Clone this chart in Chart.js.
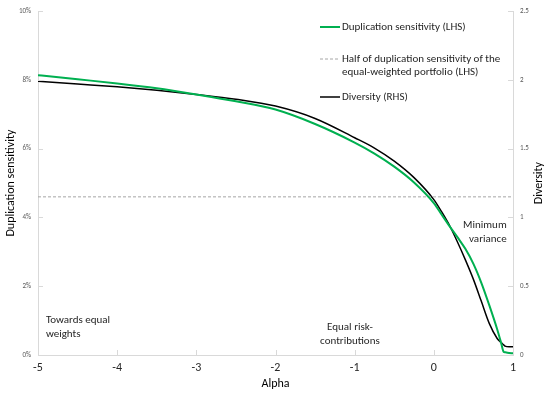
<!DOCTYPE html>
<html>
<head>
<meta charset="utf-8">
<script src="https://cdn.jsdelivr.net/npm/chart.js@4.4.1/dist/chart.umd.min.js"></script>
<style>
  html, body { margin: 0; padding: 0; background: #fff; }
  #wrap { width: 550px; height: 395px; }
</style>
</head>
<body>
<div id="wrap"><canvas id="chart"></canvas></div>
<script>
// --- data ---
const alpha = [-5, -4.5, -4, -3.5, -3, -2.5, -2, -1.5, -1, -0.75, -0.5, -0.25, 0, 0.1, 0.2, 0.3, 0.4, 0.5, 0.6, 0.7, 0.8, 0.85, 0.88, 0.9, 0.95, 1];
const dupSensitivity = [8.14, 8.02, 7.90, 7.76, 7.58, 7.38, 7.14, 6.72, 6.18, 5.86, 5.48, 5.02, 4.42, 4.08, 3.74, 3.42, 3.08, 2.65, 2.10, 1.45, 0.75, 0.35, 0.10, 0.08, 0.06, 0.05];
const diversity = [1.99, 1.97, 1.95, 1.925, 1.895, 1.86, 1.81, 1.72, 1.58, 1.505, 1.41, 1.29, 1.13, 1.04, 0.94, 0.82, 0.69, 0.55, 0.39, 0.23, 0.12, 0.09, 0.075, 0.065, 0.06, 0.06];
const halfEqualWeighted = 4.6;
const xTicks = [-5, -4, -3, -2, -1, 0, 1];
const leftTicks = [0, 2, 4, 6, 8, 10];
const rightTicks = [0, 0.5, 1, 1.5, 2, 2.5];

const legendItems = [
  { lines: ['Duplication sensitivity (LHS)'], color: '#00b050', width: 2, dash: [] },
  { lines: ['Half of duplication sensitivity of the', 'equal-weighted portfolio (LHS)'], color: '#a6a6a6', width: 1, dash: [3, 2] },
  { lines: ['Diversity (RHS)'], color: '#000000', width: 1.5, dash: [] }
];

const notes = [
  { x: -4.9, y: 1.0, align: 'left', lines: ['Towards equal', 'weights'] },
  { x: -1.06, y: 0.81, align: 'center', lines: ['Equal risk-', 'contributions'] },
  { x: 0.92, y: 3.77, align: 'right', lines: ['Minimum', 'variance'] }
];

const FONT = 'Carlito, Lato, sans-serif';
const axisColor = '#d9d9d9';

// inward tick marks, legend, notes and right axis title
const decorPlugin = {
  id: 'decor',
  afterDraw(chart) {
    const ctx = chart.ctx;
    const { x, y, y2 } = chart.scales;
    const area = chart.chartArea;
    ctx.save();
    ctx.strokeStyle = axisColor;
    ctx.lineWidth = 1;
    ctx.beginPath();
    xTicks.forEach(v => {
      const px = Math.round(x.getPixelForValue(v)) + 0.5;
      ctx.moveTo(px, area.bottom); ctx.lineTo(px, area.bottom - 5);
    });
    leftTicks.forEach(v => {
      const py = Math.round(y.getPixelForValue(v)) + 0.5;
      ctx.moveTo(area.left, py); ctx.lineTo(area.left + 5, py);
    });
    rightTicks.forEach(v => {
      const py = Math.round(y2.getPixelForValue(v)) + 0.5;
      ctx.moveTo(area.right, py); ctx.lineTo(area.right - 5, py);
    });
    ctx.stroke();

    // legend
    ctx.font = '11px ' + FONT;
    ctx.textBaseline = 'middle';
    ctx.textAlign = 'left';
    const legendTop = [27, 59, 97];
    legendItems.forEach((item, i) => {
      const ly = legendTop[i];
      ctx.beginPath();
      ctx.strokeStyle = item.color;
      ctx.lineWidth = item.width;
      ctx.setLineDash(item.dash);
      ctx.moveTo(320, ly); ctx.lineTo(340, ly);
      ctx.stroke();
      ctx.setLineDash([]);
      ctx.fillStyle = '#262626';
      item.lines.forEach((t, j) => ctx.fillText(t, 342, ly + j * 13));
    });

    // notes
    ctx.fillStyle = '#262626';
    notes.forEach(n => {
      ctx.textAlign = n.align;
      const px = x.getPixelForValue(n.x);
      const py = y.getPixelForValue(n.y);
      n.lines.forEach((t, j) => ctx.fillText(t, px, py + j * 14));
    });

    // right axis title, reading bottom to top
    ctx.translate(539, (area.top + area.bottom) / 2);
    ctx.rotate(-Math.PI / 2);
    ctx.textAlign = 'center';
    ctx.font = '12px ' + FONT;
    ctx.fillStyle = '#000';
    ctx.fillText('Diversity', 0, 0);
    ctx.restore();
  }
};

new Chart(document.getElementById('chart'), {
  type: 'line',
  data: {
    datasets: [
      {
        label: 'Duplication sensitivity (LHS)',
        data: alpha.map((a, i) => ({ x: a, y: dupSensitivity[i] })),
        borderColor: '#00b050', borderWidth: 2, pointRadius: 0,
        cubicInterpolationMode: 'monotone', yAxisID: 'y'
      },
      {
        label: 'Half of duplication sensitivity of the equal-weighted portfolio (LHS)',
        data: [{ x: alpha[0], y: halfEqualWeighted }, { x: alpha[alpha.length - 1], y: halfEqualWeighted }],
        borderColor: '#a6a6a6', borderWidth: 1, borderDash: [3, 2], pointRadius: 0, yAxisID: 'y'
      },
      {
        label: 'Diversity (RHS)',
        data: alpha.map((a, i) => ({ x: a, y: diversity[i] })),
        borderColor: '#000000', borderWidth: 1.5, pointRadius: 0,
        cubicInterpolationMode: 'monotone', yAxisID: 'y2'
      }
    ]
  },
  options: {
    responsive: true,
    maintainAspectRatio: false,
    animation: false,
    layout: { padding: { top: 10, left: 0, right: 0, bottom: 0 } },
    plugins: { legend: { display: false }, tooltip: { enabled: false } },
    scales: {
      x: {
        type: 'linear', min: -5, max: 1,
        afterBuildTicks: s => { s.ticks = xTicks.map(v => ({ value: v })); },
        afterFit: s => { s.height = 40; },
        grid: { display: false, drawTicks: false },
        border: { color: axisColor },
        ticks: { color: '#262626', font: { family: FONT, size: 12 }, padding: 6, maxRotation: 0 },
        title: { display: true, text: 'Alpha', color: '#000', font: { family: FONT, size: 12 }, padding: { top: 0 } }
      },
      y: {
        position: 'left', min: 0, max: 10,
        afterBuildTicks: s => { s.ticks = leftTicks.map(v => ({ value: v })); },
        afterFit: s => { s.width = 38; },
        grid: { display: false, drawTicks: false },
        border: { color: axisColor },
        ticks: { color: '#595959', font: { family: FONT, size: 7 }, padding: 7, callback: v => v + '%' },
        title: { display: true, text: 'Duplication sensitivity', color: '#000', font: { family: FONT, size: 12 }, padding: { top: 4, bottom: 0 } }
      },
      y2: {
        position: 'right', min: 0, max: 2.5,
        afterBuildTicks: s => { s.ticks = rightTicks.map(v => ({ value: v })); },
        afterFit: s => { s.width = 37; },
        grid: { display: false, drawTicks: false },
        border: { color: axisColor },
        ticks: { color: '#595959', font: { family: FONT, size: 7 }, padding: 7, callback: v => String(v) }
      }
    }
  },
  plugins: [decorPlugin]
});
</script>
</body>
</html>
